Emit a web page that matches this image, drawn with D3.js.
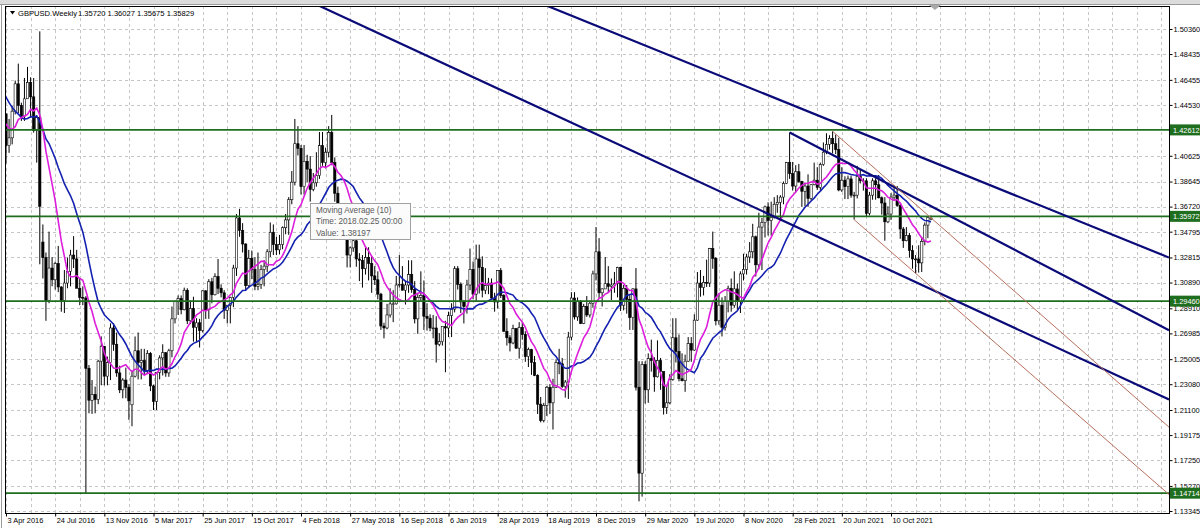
<!DOCTYPE html>
<html><head><meta charset="utf-8">
<script src="https://cdn.jsdelivr.net/npm/d3@7"></script>
<style>
html,body{margin:0;padding:0;background:#fff;overflow:hidden;}
svg{display:block;font-family:"Liberation Sans",Arial,sans-serif;}
</style></head><body>
<svg id="chart" width="1200" height="528"></svg>
<script>
// ---------------- data ----------------
const symbolTitle = "GBPUSD.Weekly";
const headerQuote = ["1.35720", "1.36027", "1.35675", "1.35829"];
const firstBarWeek = "2015-11-15"; // weekly bars, one per week from here

const opens = [
1.5190,1.5195,1.5040,1.5125,1.5200,1.4900,1.4905,1.4735,1.4535,1.4245,1.4270,1.4245,1.4500,1.4500,1.4405,1.3900,1.4225,1.4370,1.4500,1.4120,
1.4385,1.4140,1.4200,1.4405,1.4615,1.4450,1.4365,1.4500,1.4625,1.4515,
1.4255,1.4355,1.3400,1.3280,1.2950,1.3200,1.3110,1.3235,1.3055,1.2950,
1.3085,1.3175,1.3300,1.3270,1.3045,1.2975,1.2970,1.2430,1.2185,1.2230,
1.2190,1.2485,1.2600,1.2370,1.2475,1.2740,1.2615,1.2395,1.2265,1.2340,
1.2285,1.2150,1.2370,1.2565,1.2475,1.2490,1.2410,1.2545,1.2295,1.2175,
1.2400,1.2510,1.2550,1.2395,1.2565,1.2810,1.2945,1.2965,1.2880,1.3030,
1.2795,1.2890,1.2745,1.2780,1.2720,1.3025,1.2880,1.3095,1.2995,1.3135,
1.3045,1.3010,1.2875,1.2915,1.2975,1.3200,1.3585,1.3490,1.3385,1.3065,
1.3275,1.3190,1.3060,1.3075,1.3190,1.3215,1.3325,1.3475,1.3380,1.3340,
1.3380,1.3510,1.3570,1.3725,1.3860,1.4155,1.4120,1.3825,1.4020,1.3960,
1.3805,1.3855,1.3910,1.4140,1.4010,1.4090,1.4240,1.4010,1.3775,1.3530,
1.3550,1.3465,1.3300,1.3355,1.3410,1.3270,1.3260,1.3195,1.3280,1.3235,
1.3140,1.3110,1.3000,1.2755,1.2740,1.2840,1.2925,1.2925,1.3070,1.3075,
1.3030,1.3070,1.3150,1.3035,1.2810,1.2975,1.2990,1.2830,1.2815,1.2740,
1.2740,1.2615,1.2635,1.2750,1.2740,1.2835,1.2885,1.3195,1.3075,1.2940,
1.2905,1.3070,1.3190,1.3000,1.3270,1.3205,1.3030,1.3065,1.3085,1.2970,
1.2940,1.3180,1.2990,1.2715,1.2665,1.2625,1.2735,1.2585,1.2745,1.2690,
1.2520,1.2575,1.2475,1.2375,1.2155,1.2030,1.2145,1.2285,1.2165,1.2285,
1.2475,1.2465,1.2290,1.2325,1.2670,1.2970,1.2825,1.2945,1.2775,1.2905,
1.2840,1.2930,1.3155,1.3325,1.3010,1.3040,1.3080,1.3060,1.3070,1.3080,
1.3205,1.2915,1.3045,1.2960,1.2820,1.3040,1.2285,1.1625,1.2460,1.2265,
1.2505,1.2490,1.2365,1.2490,1.2405,1.2130,1.2165,1.2345,1.2665,1.2560,
1.2350,1.2335,1.2485,1.2620,1.2570,1.2800,1.3085,1.3050,1.3090,1.3085,
1.3350,1.3275,1.2795,1.2915,1.2745,1.2945,1.3045,1.2915,1.3040,1.2945,
1.3155,1.3190,1.3285,1.3325,1.3440,1.3225,1.3515,1.3550,1.3670,1.3565,
1.3590,1.3690,1.3705,1.3745,1.3850,1.4010,1.3925,1.3830,1.3940,1.3865,
1.3790,1.3830,1.3735,1.3840,1.3875,1.3820,1.3995,1.4090,1.4150,1.4195,
1.4155,1.4110,1.3800,1.3875,1.3825,1.3885,1.3760,1.3760,1.3905,1.3870,
1.3870,1.3620,1.3760,1.3870,1.3840,1.3740,1.3700,1.3555,1.3615,1.3745,
1.3760,1.3680,1.3500,1.3410,1.3450,1.3335,1.3270,1.3270,1.3240,1.3405,1.3530,1.35720];

const highs = [
1.5335,1.5250,1.5140,1.5240,1.5240,1.4990,1.4910,1.4750,1.4560,1.4300,1.4400,1.4670,1.4595,1.4530,1.4410,1.4245,1.4375,1.4515,1.4505,1.4460,
1.4385,1.4345,1.4445,1.4640,1.4770,1.4470,1.4660,1.4745,1.4665,1.4660,
1.4375,1.5018,1.3535,1.3320,1.3480,1.3285,1.3250,1.3370,1.3060,1.3185,
1.3280,1.3340,1.3445,1.3340,1.3120,1.3060,1.2985,1.2455,1.2340,1.2290,
1.2495,1.2675,1.2600,1.2520,1.2775,1.2775,1.2705,1.2450,1.2355,1.2435,
1.2310,1.2415,1.2675,1.2705,1.2580,1.2580,1.2570,1.2555,1.2305,1.2400,
1.2530,1.2615,1.2555,1.2580,1.2905,1.2950,1.2990,1.2990,1.3050,1.3045,
1.2950,1.2980,1.2815,1.2810,1.3030,1.3030,1.3115,1.3125,1.3160,1.3270,
1.3075,1.3030,1.2915,1.2980,1.3225,1.3615,1.3655,1.3545,1.3390,1.3340,
1.3335,1.3285,1.3320,1.3225,1.3260,1.3345,1.3550,1.3535,1.3440,1.3455,
1.3520,1.3615,1.3745,1.3945,1.4345,1.4290,1.4145,1.4145,1.4070,1.4060,
1.3930,1.4090,1.4245,1.4245,1.4125,1.4290,1.4376,1.4050,1.3825,1.3625,
1.3615,1.3475,1.3365,1.3470,1.3470,1.3315,1.3300,1.3365,1.3360,1.3290,
1.3215,1.3175,1.3010,1.2780,1.2925,1.3045,1.3030,1.3140,1.3300,1.3215,
1.3100,1.3260,1.3260,1.3100,1.3000,1.3175,1.3105,1.2930,1.2845,1.2840,
1.2830,1.2700,1.2740,1.2795,1.2865,1.2930,1.3215,1.3215,1.3090,1.2955,
1.3110,1.3350,1.3250,1.3380,1.3380,1.3290,1.3200,1.3125,1.3120,1.3010,
1.3180,1.3200,1.3000,1.2815,1.2685,1.2765,1.2740,1.2785,1.2785,1.2715,
1.2590,1.2580,1.2525,1.2385,1.2210,1.2165,1.2295,1.2310,1.2350,1.2500,
1.2580,1.2510,1.2340,1.2710,1.3015,1.3015,1.2975,1.2955,1.2925,1.2985,
1.2950,1.3180,1.3515,1.3430,1.3045,1.3285,1.3215,1.3120,1.3170,1.3210,
1.3210,1.3070,1.3070,1.3000,1.3045,1.3200,1.2485,1.2485,1.2485,1.2545,
1.2650,1.2515,1.2645,1.2510,1.2405,1.2295,1.2385,1.2815,1.2815,1.2690,
1.2545,1.2535,1.2670,1.2670,1.2845,1.3170,1.3185,1.3140,1.3265,1.3355,
1.3480,1.3285,1.3005,1.2975,1.2985,1.3065,1.3120,1.3175,1.3080,1.3175,
1.3310,1.3310,1.3400,1.3540,1.3450,1.3625,1.3585,1.3680,1.3705,1.3710,
1.3745,1.3760,1.3760,1.3865,1.4015,1.4241,1.4015,1.3990,1.4000,1.3870,
1.3850,1.3920,1.3845,1.4010,1.3975,1.4010,1.4165,1.4235,1.4220,1.4250,
1.4225,1.4200,1.3975,1.3905,1.3910,1.3910,1.3785,1.3985,1.3960,1.3890,
1.3890,1.3785,1.3890,1.3890,1.3915,1.3750,1.3745,1.3675,1.3775,1.3835,
1.3830,1.3700,1.3515,1.3515,1.3470,1.3375,1.3300,1.3375,1.3440,1.3550,1.3600,1.36027];

const lows = [
1.5165,1.5030,1.4895,1.5070,1.4860,1.4810,1.4715,1.4515,1.4240,1.4080,1.4140,1.4230,1.4350,1.4160,1.3835,1.3880,1.4055,1.4050,1.4080,1.4100,
1.4005,1.4085,1.4150,1.4380,1.4390,1.4330,1.4330,1.4500,1.4355,1.4240,
1.4010,1.3229,1.3120,1.2795,1.2930,1.3060,1.3035,1.3015,1.2865,1.2855,
1.3045,1.3060,1.3200,1.3055,1.2915,1.2915,1.1471,1.2085,1.2080,1.2085,
1.2155,1.2300,1.2300,1.2300,1.2340,1.2565,1.2365,1.2240,1.2200,1.2200,
1.2035,1.1985,1.2360,1.2345,1.2345,1.2380,1.2385,1.2255,1.2110,1.2110,
1.2345,1.2375,1.2365,1.2365,1.2515,1.2775,1.2840,1.2845,1.2875,1.2770,
1.2770,1.2635,1.2635,1.2590,1.2705,1.2810,1.2810,1.2930,1.2990,1.3000,
1.2975,1.2810,1.2775,1.2775,1.2900,1.3140,1.3440,1.3320,1.3030,1.3045,
1.3115,1.3030,1.3030,1.3040,1.3060,1.3170,1.3285,1.3300,1.3300,1.3305,
1.3345,1.3460,1.3455,1.3690,1.3835,1.4065,1.3765,1.3765,1.3860,1.3710,
1.3790,1.3825,1.3885,1.3985,1.3965,1.4050,1.3990,1.3710,1.3485,1.3460,
1.3445,1.3205,1.3205,1.3325,1.3210,1.3100,1.3050,1.3150,1.3105,1.3010,
1.3070,1.2960,1.2725,1.2660,1.2730,1.2820,1.2785,1.2920,1.3050,1.3030,
1.2920,1.3010,1.3010,1.2775,1.2695,1.2950,1.2725,1.2720,1.2715,1.2660,
1.2475,1.2600,1.2605,1.2400,1.2670,1.2670,1.2860,1.3035,1.2855,1.2775,
1.2850,1.3030,1.2960,1.2945,1.3005,1.2975,1.3000,1.3000,1.2960,1.2865,
1.2890,1.2970,1.2710,1.2605,1.2560,1.2615,1.2580,1.2505,1.2650,1.2480,
1.2440,1.2380,1.2370,1.2080,1.2015,1.2015,1.2065,1.2080,1.1960,1.2280,
1.2385,1.2280,1.2205,1.2195,1.2645,1.2805,1.2795,1.2770,1.2770,1.2825,
1.2820,1.2895,1.3105,1.2970,1.2905,1.3040,1.3010,1.2955,1.3010,1.2975,
1.2870,1.2875,1.2850,1.2725,1.2725,1.2260,1.1409,1.1445,1.2160,1.2165,
1.2405,1.2250,1.2360,1.2265,1.2075,1.2080,1.2155,1.2335,1.2475,1.2330,
1.2330,1.2250,1.2480,1.2480,1.2565,1.2795,1.2980,1.2990,1.3055,1.3055,
1.3195,1.2760,1.2765,1.2675,1.2720,1.2860,1.2865,1.2895,1.2880,1.2855,
1.3105,1.3150,1.3240,1.3275,1.3135,1.3190,1.3185,1.3435,1.3450,1.3450,
1.3580,1.3625,1.3565,1.3690,1.3845,1.3885,1.3795,1.3780,1.3855,1.3670,
1.3675,1.3670,1.3720,1.3835,1.3800,1.3800,1.3985,1.4075,1.4110,1.4080,
1.4075,1.3790,1.3785,1.3730,1.3730,1.3740,1.3572,1.3735,1.3850,1.3795,
1.3600,1.3605,1.3725,1.3725,1.3735,1.3610,1.3410,1.3545,1.3570,1.3720,
1.3670,1.3425,1.3355,1.3405,1.3280,1.3195,1.3160,1.3165,1.3170,1.3375,1.3430,1.35675];

const closes = [
1.5195,1.5040,1.5125,1.5200,1.4900,1.4905,1.4735,1.4535,1.4245,1.4270,1.4245,1.4500,1.4500,1.4405,1.3900,1.4225,1.4370,1.4500,1.4120,1.4385,
1.4140,1.4200,1.4405,1.4615,1.4450,1.4365,1.4500,1.4625,1.4515,1.4255,
1.4355,1.3675,1.3280,1.2950,1.3200,1.3110,1.3235,1.3055,1.2950,1.3085,
1.3175,1.3300,1.3270,1.3045,1.2975,1.2970,1.2430,1.2185,1.2230,1.2190,
1.2485,1.2600,1.2370,1.2475,1.2740,1.2615,1.2395,1.2265,1.2340,1.2285,
1.2180,1.2370,1.2565,1.2475,1.2490,1.2410,1.2545,1.2295,1.2175,1.2400,
1.2510,1.2550,1.2395,1.2565,1.2810,1.2945,1.2965,1.2880,1.3030,1.2795,
1.2890,1.2745,1.2780,1.2720,1.3025,1.2880,1.3095,1.2995,1.3135,1.3045,
1.3010,1.2875,1.2915,1.2975,1.3200,1.3585,1.3490,1.3385,1.3065,1.3275,
1.3190,1.3060,1.3075,1.3190,1.3215,1.3325,1.3475,1.3380,1.3340,1.3380,
1.3510,1.3570,1.3725,1.3860,1.4155,1.4120,1.3825,1.4020,1.3960,1.3805,
1.3855,1.3910,1.4140,1.4010,1.4090,1.4240,1.4010,1.3775,1.3530,1.3550,
1.3465,1.3300,1.3355,1.3410,1.3270,1.3260,1.3195,1.3280,1.3235,1.3140,
1.3110,1.3000,1.2755,1.2740,1.2840,1.2925,1.2925,1.3070,1.3075,1.3030,
1.3070,1.3150,1.3035,1.2810,1.2975,1.2990,1.2830,1.2815,1.2740,1.2740,
1.2615,1.2635,1.2750,1.2740,1.2835,1.2885,1.3195,1.3075,1.2940,1.2905,
1.3070,1.3190,1.3000,1.3270,1.3205,1.3030,1.3065,1.3085,1.2970,1.2940,
1.3180,1.2990,1.2715,1.2665,1.2625,1.2735,1.2585,1.2745,1.2690,1.2520,
1.2575,1.2475,1.2375,1.2155,1.2030,1.2145,1.2285,1.2165,1.2285,1.2475,
1.2465,1.2290,1.2325,1.2670,1.2970,1.2825,1.2945,1.2775,1.2905,1.2840,
1.2930,1.3155,1.3325,1.3010,1.3040,1.3080,1.3060,1.3070,1.3080,1.3205,
1.2915,1.3045,1.2960,1.2820,1.3040,1.2285,1.1625,1.2460,1.2265,1.2505,
1.2490,1.2365,1.2490,1.2405,1.2130,1.2165,1.2345,1.2665,1.2560,1.2350,
1.2335,1.2485,1.2620,1.2570,1.2800,1.3085,1.3050,1.3090,1.3085,1.3350,
1.3275,1.2795,1.2915,1.2745,1.2945,1.3045,1.2915,1.3040,1.2945,1.3155,
1.3190,1.3285,1.3325,1.3440,1.3225,1.3515,1.3550,1.3670,1.3565,1.3590,
1.3690,1.3705,1.3745,1.3850,1.4010,1.3925,1.3830,1.3940,1.3865,1.3790,
1.3830,1.3735,1.3840,1.3875,1.3820,1.3995,1.4090,1.4150,1.4195,1.4155,
1.4110,1.3800,1.3875,1.3825,1.3885,1.3760,1.3760,1.3905,1.3870,1.3870,
1.3620,1.3760,1.3870,1.3840,1.3740,1.3700,1.3555,1.3615,1.3745,1.3760,
1.3680,1.3500,1.3410,1.3450,1.3335,1.3270,1.3270,1.3240,1.3405,1.3530,1.3590,1.35829];

const maFastPeriod = 10;   // magenta
const maSlowPeriod = 20;   // blue

const priceTickLabels = ["1.50360","1.48435","1.46455","1.44530","1.40625","1.38645","1.36720",
  "1.34795","1.32815","1.30890","1.28910","1.26985","1.25005","1.23080","1.21100","1.19175",
  "1.17250","1.15270","1.13345"];
const levelLines = ["1.42612","1.35972","1.29460","1.14714"];
const timeLabels = ["3 Apr 2016","24 Jul 2016","13 Nov 2016","5 Mar 2017","25 Jun 2017","15 Oct 2017",
  "4 Feb 2018","27 May 2018","16 Sep 2018","6 Jan 2019","28 Apr 2019","18 Aug 2019","8 Dec 2019",
  "29 Mar 2020","19 Jul 2020","8 Nov 2020","28 Feb 2021","20 Jun 2021","10 Oct 2021"];
// trend lines: [date1, price1, date2, price2]
const channelLines = [
  ["2019-08-18", 1.5215, "2021-10-10", 1.4145],
  ["2018-02-04", 1.5279, "2021-10-10", 1.3180],
  ["2021-02-21", 1.4241, "2021-10-10", 1.3835]];
const channelExtendLeft = [true, true, false];
const thinChannelLines = [
  ["2021-05-30", 1.4250, "2021-10-17", 1.3835],
  ["2021-07-18", 1.3572, "2021-12-05", 1.3160]];
const tooltipLines = ["Moving Average (10)", "Time: 2018.02.25 00:00", "Value: 1.38197"];

// ---------------- drawing ----------------
const svg = d3.select("#chart");
const parseISO = d3.utcParse("%Y-%m-%d");
const parseLabel = d3.utcParse("%d %b %Y");
const plot = {left: 5, right: 1169, top: 6, bottom: 513};

const x = d3.scaleUtc()
  .domain([parseLabel(timeLabels[0]), parseLabel(timeLabels[timeLabels.length - 1])])
  .range([6, 891]);
const y = d3.scaleLinear().domain([1.13345, 1.50360]).range([511, 29]);

const start = parseISO(firstBarWeek);
const bars = closes.map((c, i) => ({
  date: d3.utcWeek.offset(start, i), o: opens[i], h: highs[i], l: lows[i], c: c, i: i
}));

function sma(period) {
  return bars.filter(b => b.i >= period - 1).map(b => ({
    date: b.date, v: d3.mean(closes.slice(b.i - period + 1, b.i + 1))
  }));
}

// top window strip
svg.append("rect").attr("x", 0).attr("y", 0).attr("width", 1200).attr("height", 4).attr("fill", "#dcdcdc");
svg.append("line").attr("x1", 0).attr("x2", 1200).attr("y1", 4.5).attr("y2", 4.5).attr("stroke", "#9a9a9a");
svg.append("line").attr("x1", 1.5).attr("x2", 1.5).attr("y1", 4).attr("y2", 528).attr("stroke", "#9a9a9a");

svg.append("defs").append("clipPath").attr("id", "plotClip").append("rect")
  .attr("x", plot.left).attr("y", plot.top)
  .attr("width", plot.right - plot.left).attr("height", plot.bottom - plot.top);

// grid
const grid = svg.append("g").attr("clip-path", "url(#plotClip)")
  .attr("stroke", "#c6c6c6").attr("stroke-dasharray", "3,3").attr("stroke-width", 1);
priceTickLabels.forEach(t => {
  const yy = Math.round(y(+t)) + 0.5;
  grid.append("line").attr("x1", plot.left).attr("x2", plot.right).attr("y1", yy).attr("y2", yy);
});
const gridDates = d3.range(-8, 60).map(k => d3.utcWeek.offset(parseLabel(timeLabels[0]), 8 * k));
gridDates.forEach(d => {
  const xx = Math.round(x(d)) + 0.5;
  if (xx > plot.left && xx < plot.right)
    grid.append("line").attr("x1", xx).attr("x2", xx).attr("y1", plot.top).attr("y2", plot.bottom);
});

const content = svg.append("g").attr("clip-path", "url(#plotClip)");

// candles
const bw = 2.3;
const candles = content.append("g");
candles.selectAll("line").data(bars).join("line")
  .attr("x1", d => x(d.date)).attr("x2", d => x(d.date))
  .attr("y1", d => y(d.h)).attr("y2", d => y(d.l))
  .attr("stroke", "#000").attr("stroke-width", 1);
candles.selectAll("rect").data(bars).join("rect")
  .attr("x", d => x(d.date) - bw / 2)
  .attr("y", d => Math.min(y(d.o), y(d.c)))
  .attr("width", bw)
  .attr("height", d => Math.max(0.8, Math.abs(y(d.o) - y(d.c))))
  .attr("fill", d => d.c >= d.o ? "#ffffff" : "#000000")
  .attr("stroke", "#000").attr("stroke-width", 0.6);

// moving averages
const maLine = d3.line().x(d => x(d.date)).y(d => y(d.v));
content.append("path").datum(sma(maSlowPeriod)).attr("d", maLine)
  .attr("fill", "none").attr("stroke", "#1421b0").attr("stroke-width", 1.6);
content.append("path").datum(sma(maFastPeriod)).attr("d", maLine)
  .attr("fill", "none").attr("stroke", "#dc1edc").attr("stroke-width", 1.6);

// horizontal levels
const levelColor = "#1f6e1f";
levelLines.forEach(v => {
  const yy = y(+v);
  content.append("line").attr("x1", plot.left).attr("x2", plot.right)
    .attr("y1", yy).attr("y2", yy).attr("stroke", levelColor).attr("stroke-width", 1.6);
});

// trend lines
function trendPath(seg, extendLeft) {
  const x1 = x(parseISO(seg[0])), y1 = y(seg[1]);
  const x2 = x(parseISO(seg[2])), y2 = y(seg[3]);
  const slope = (y2 - y1) / (x2 - x1);
  const xs = extendLeft ? plot.left : x1;
  const xe = plot.right;
  return [[xs, y1 + (xs - x1) * slope], [xe, y1 + (xe - x1) * slope]];
}
channelLines.forEach((seg, k) => {
  const p = trendPath(seg, channelExtendLeft[k]);
  content.append("line").attr("x1", p[0][0]).attr("y1", p[0][1]).attr("x2", p[1][0]).attr("y2", p[1][1])
    .attr("stroke", "#0a0a78").attr("stroke-width", 2.2);
});
thinChannelLines.forEach(seg => {
  const p = trendPath(seg, false);
  content.append("line").attr("x1", p[0][0]).attr("y1", p[0][1]).attr("x2", p[1][0]).attr("y2", p[1][1])
    .attr("stroke", "#b8705e").attr("stroke-width", 1);
});

// frame
svg.append("rect").attr("x", plot.left + 0.5).attr("y", plot.top + 0.5)
  .attr("width", plot.right - plot.left).attr("height", plot.bottom - plot.top)
  .attr("fill", "none").attr("stroke", "#000").attr("stroke-width", 1);

// price axis
const yAxis = d3.axisRight(y)
  .tickValues(priceTickLabels.map(Number))
  .tickFormat((d, i) => priceTickLabels[i])
  .tickSize(3).tickPadding(1);
const yg = svg.append("g").attr("transform", `translate(${plot.right + 0.5},0)`).call(yAxis);
yg.select(".domain").remove();
yg.selectAll("text").attr("font-size", "7.4px").attr("fill", "#000")
  .attr("font-family", "'Liberation Sans', Arial, sans-serif");
yg.selectAll("line").attr("stroke", "#000");

// level labels
levelLines.forEach(v => {
  const yy = y(+v);
  svg.append("rect").attr("x", plot.right + 1).attr("y", yy - 5.5).attr("width", 31).attr("height", 11)
    .attr("fill", levelColor);
  svg.append("text").attr("x", plot.right + 4).attr("y", yy + 2.8)
    .attr("font-size", "7.4px").attr("fill", "#fff").text(v);
});

// time axis
const xAxis = d3.axisBottom(x)
  .tickValues(timeLabels.map(parseLabel))
  .tickFormat((d, i) => timeLabels[i])
  .tickSize(3).tickPadding(1);
const xg = svg.append("g").attr("transform", `translate(0,${plot.bottom + 0.5})`).call(xAxis);
xg.select(".domain").remove();
xg.selectAll("text").attr("text-anchor", "start").attr("dx", "1px")
  .attr("font-size", "7.4px").attr("fill", "#000")
  .attr("font-family", "'Liberation Sans', Arial, sans-serif");
xg.selectAll("line").attr("stroke", "#000");

// chart shift marker
const lastX = x(bars[bars.length - 1].date);
svg.append("path").attr("d", `M${lastX - 2},5 L${lastX + 10},5 L${lastX + 4},10 Z`).attr("fill", "#a8a8a8");

// header
svg.append("path").attr("d", "M10,11 L15,11 L12.5,14.5 Z").attr("fill", "#000");
svg.append("text").attr("x", 18).attr("y", 16).attr("font-size", "7.6px").attr("fill", "#000").text(symbolTitle);
svg.append("text").attr("x", 78).attr("y", 16).attr("font-size", "7.6px").attr("fill", "#000")
  .text(headerQuote.join(" "));

// tooltip
const tip = svg.append("g").attr("transform", "translate(310.5,203.5)");
tip.append("rect").attr("width", 100).attr("height", 36).attr("fill", "#fbfbfb")
  .attr("stroke", "#a0a0a0").attr("stroke-width", 1);
tooltipLines.forEach((t, i) => {
  tip.append("text").attr("x", 5.5).attr("y", 9 + i * 11.5).attr("font-size", "8.2px")
    .attr("fill", "#5a5a5a").text(t);
});
</script>
</body></html>
